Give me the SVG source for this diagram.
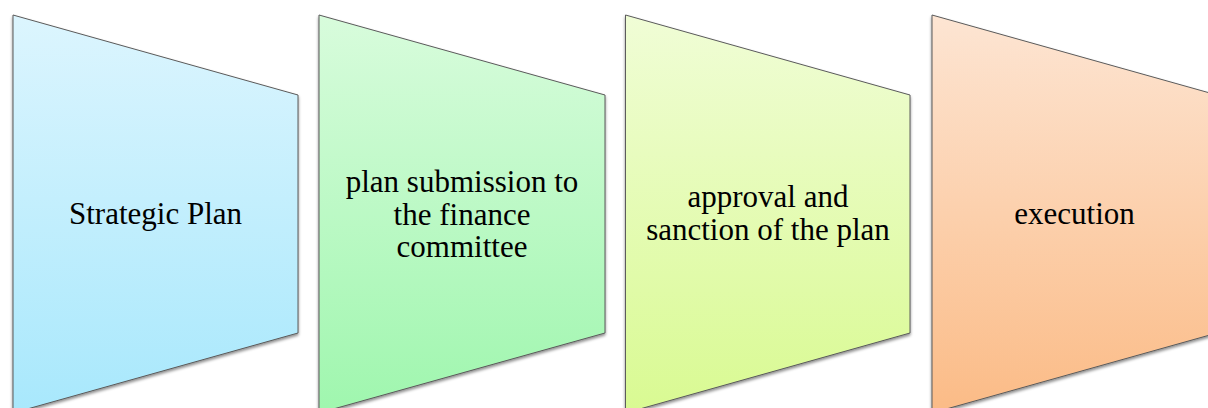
<svg xmlns="http://www.w3.org/2000/svg" width="1208" height="408" viewBox="0 0 1208 408">
<style>
.shape{stroke:#5b5b5b;stroke-width:1;filter:url(#sh)}
.lbl{font-family:"Liberation Serif","Times New Roman",serif;font-size:31px;fill:#000;text-anchor:middle}
</style>
<defs>
<filter id="sh" x="-10%" y="-10%" width="120%" height="130%">
<feDropShadow dx="0" dy="2" stdDeviation="1.8" flood-color="#000" flood-opacity="0.45"/>
</filter>
<linearGradient id="gBlue" x1="0" y1="0" x2="0" y2="1"><stop offset="0" stop-color="#dcf5fe"/><stop offset="1" stop-color="#a8e8fc"/></linearGradient>
<linearGradient id="gGreen" x1="0" y1="0" x2="0" y2="1"><stop offset="0" stop-color="#d8fcdc"/><stop offset="1" stop-color="#9ff6ae"/></linearGradient>
<linearGradient id="gYellow" x1="0" y1="0" x2="0" y2="1"><stop offset="0" stop-color="#f0fdd6"/><stop offset="1" stop-color="#d9fa92"/></linearGradient>
<linearGradient id="gOrange" x1="0" y1="0" x2="0" y2="1"><stop offset="0" stop-color="#fde5d3"/><stop offset="1" stop-color="#fbbb86"/></linearGradient>
</defs>
<g id="connectors"></g>
<g id="node1">
<polygon class="shape" fill="url(#gBlue)" points="13,15 298,95 298,333 13,413"/>
<text class="lbl" x="155.5" y="224">Strategic Plan</text>
</g>
<g id="node2">
<polygon class="shape" fill="url(#gGreen)" points="319,15 605,95 605,333 319,413"/>
<text class="lbl" x="462" y="192">plan submission to</text>
<text class="lbl" x="462" y="225">the finance</text>
<text class="lbl" x="462" y="257">committee</text>
</g>
<g id="node3">
<polygon class="shape" fill="url(#gYellow)" points="625.5,15 910,95 910,333 625.5,413"/>
<text class="lbl" x="768" y="207">approval and</text>
<text class="lbl" x="768" y="240">sanction of the plan</text>
</g>
<g id="node4">
<polygon class="shape" fill="url(#gOrange)" points="932,15 1217,95 1217,333 932,413"/>
<text class="lbl" x="1074.5" y="224">execution</text>
</g>
</svg>
